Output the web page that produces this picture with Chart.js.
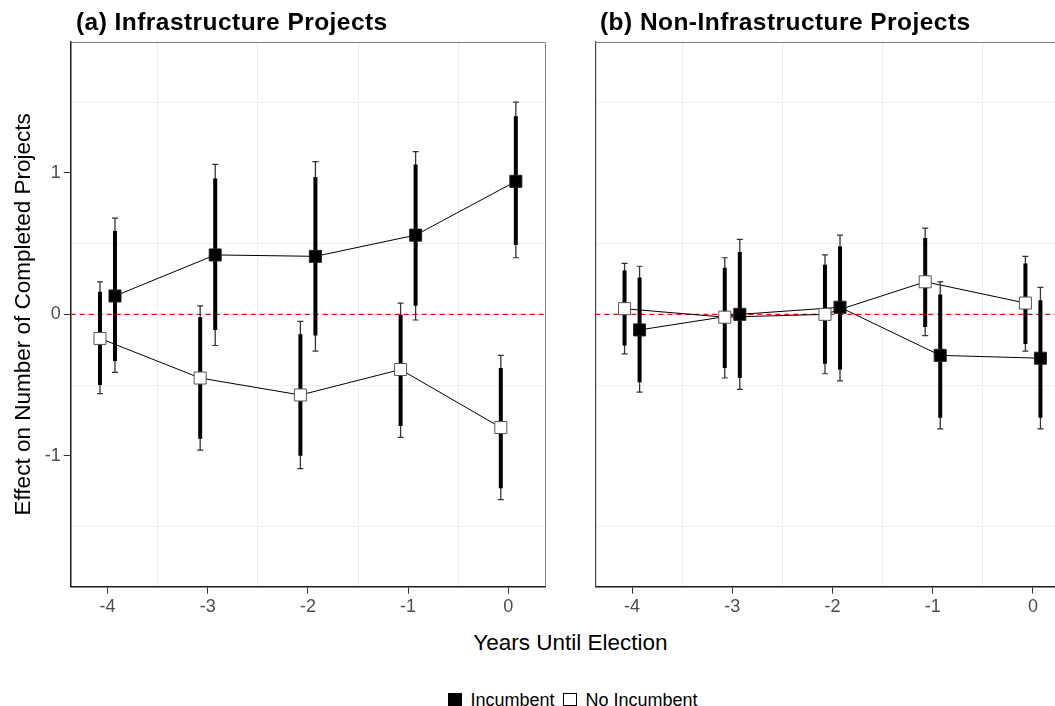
<!DOCTYPE html>
<html>
<head>
<meta charset="utf-8">
<script src="https://cdn.jsdelivr.net/npm/chart.js@4.4.1/dist/chart.umd.min.js"></script>
<style>
  html, body { margin: 0; padding: 0; background: #fff; overflow: hidden; }
  #wrap { position: relative; width: 1100px; height: 706px; font-family: "Liberation Sans", Arial, sans-serif; }
  canvas { position: absolute; top: 0; }
  .ptitle { position: absolute; top: 9.5px; font-weight: bold; font-size: 24.5px; line-height: 24.5px; letter-spacing: 0.45px; color: #000; white-space: nowrap; }
  #xtitle { position: absolute; top: 632px; left: 0; width: 1141px; text-align: center; font-size: 22.5px; line-height: 22.5px; color: #000; }
  #legend { position: absolute; top: 690.5px; left: 448px; display: flex; align-items: flex-start; font-size: 18px; line-height: 18px; color: #000; white-space: nowrap; }
  #legend .sq { width: 14px; height: 12.5px; margin-top: 2.5px; box-sizing: border-box; border: 1px solid #000; }
  #legend .gap { width: 8.5px; }
</style>
</head>
<body>
<div id="wrap">
  <canvas id="panelA" width="560" height="620" style="left:0px"></canvas>
  <canvas id="panelB" width="500" height="620" style="left:580px"></canvas>
  <div class="ptitle" style="left:76px">(a) Infrastructure Projects</div>
  <div class="ptitle" style="left:600px">(b) Non-Infrastructure Projects</div>
  <div id="xtitle">Years Until Election</div>
  <div id="legend">
    <div class="sq" style="background:#000"></div><div class="gap"></div>
    <div>Incumbent</div><div class="gap"></div>
    <div class="sq" style="background:#fff"></div><div class="gap"></div>
    <div>No Incumbent</div>
  </div>
</div>
<script>
// years until election
const years = [-4, -3, -2, -1, 0];
const dodge = 0.075;

// (a) infrastructure, incumbent
const incA_est  = [0.13, 0.42, 0.41, 0.56, 0.94];
const incA_lo90 = [-0.33, -0.11, -0.15, 0.06, 0.49];
const incA_hi90 = [0.59, 0.96, 0.97, 1.06, 1.40];
const incA_lo95 = [-0.41, -0.22, -0.26, -0.04, 0.40];
const incA_hi95 = [0.68, 1.06, 1.08, 1.15, 1.50];
// (a) infrastructure, no incumbent
const noA_est  = [-0.17, -0.45, -0.57, -0.39, -0.80];
const noA_lo90 = [-0.50, -0.88, -1.00, -0.79, -1.23];
const noA_hi90 = [0.16, -0.02, -0.14, 0.00, -0.38];
const noA_lo95 = [-0.56, -0.96, -1.09, -0.87, -1.31];
const noA_hi95 = [0.23, 0.06, -0.05, 0.08, -0.29];

// (b) non-infrastructure, incumbent
const incB_est  = [-0.11, 0.00, 0.05, -0.29, -0.31];
const incB_lo90 = [-0.48, -0.45, -0.39, -0.73, -0.73];
const incB_hi90 = [0.26, 0.44, 0.48, 0.14, 0.10];
const incB_lo95 = [-0.55, -0.53, -0.47, -0.81, -0.81];
const incB_hi95 = [0.34, 0.53, 0.56, 0.23, 0.19];
// (b) non-infrastructure, no incumbent
const noB_est  = [0.04, -0.02, 0.00, 0.23, 0.08];
const noB_lo90 = [-0.22, -0.38, -0.35, -0.09, -0.21];
const noB_hi90 = [0.31, 0.33, 0.35, 0.54, 0.36];
const noB_lo95 = [-0.28, -0.45, -0.42, -0.15, -0.26];
const noB_hi95 = [0.36, 0.40, 0.42, 0.61, 0.41];

const xTicks = [-4, -3.5, -3, -2.5, -2, -1.5, -1, -0.5, 0];
const yTicks = [-1.5, -1, -0.5, 0, 0.5, 1, 1.5];
const xMin = -4.367, xMax = 0.366;
const yMin = -1.925, yMax = 1.925;

const FONT = '"Liberation Sans", Arial, sans-serif';
const isInt = v => Math.abs(v - Math.round(v)) < 1e-9;

// gray top/right frame of each panel
const panelBox = {
  id: 'panelBox',
  afterDraw(chart) {
    const {ctx, chartArea: a} = chart;
    ctx.save();
    ctx.strokeStyle = '#808080';
    ctx.lineWidth = 1;
    ctx.beginPath();
    ctx.moveTo(a.left, a.top + 0.5);
    ctx.lineTo(a.right + 0.5, a.top + 0.5);
    ctx.lineTo(a.right + 0.5, a.bottom);
    ctx.stroke();
    ctx.restore();
  }
};

function groupSets(est, lo90, hi90, lo95, hi95, dx, filled) {
  const xs = years.map(y => y + dx);
  return [
    {type: 'line', data: xs.map((x, i) => ({x, y: est[i]})), borderColor: '#000', borderWidth: 1,
     pointRadius: 0, fill: false, order: 6},
    {type: 'bar', data: xs.map((x, i) => ({x, y: [lo95[i], hi95[i]]})), backgroundColor: '#333',
     barThickness: 1.3, grouped: false, borderWidth: 0, inflateAmount: 0, order: 4},
    {type: 'bar', data: xs.map((x, i) => ({x, y: [lo90[i], hi90[i]]})), backgroundColor: '#000',
     barThickness: 4, grouped: false, borderWidth: 0, inflateAmount: 0, order: 3},
    {type: 'scatter', data: xs.map((x, i) => ({x, y: lo95[i]})).concat(xs.map((x, i) => ({x, y: hi95[i]}))),
     pointStyle: 'line', pointRadius: 3, borderColor: '#333', borderWidth: 1.2, order: 2},
    {type: 'scatter', data: xs.map((x, i) => ({x, y: est[i]})), pointStyle: 'rect', pointRadius: 8.5,
     backgroundColor: filled ? '#000' : '#fff', borderColor: filled ? '#222' : '#555', borderWidth: 1, order: 0}
  ];
}

function makePanel(id, inc, no, showY, padding) {
  const datasets = [
    {type: 'line', data: [{x: xMin, y: 0}, {x: xMax, y: 0}], borderColor: '#ff0000', borderWidth: 1.2,
     borderDash: [5, 4], pointRadius: 0, order: 10}
  ].concat(groupSets(...no, -dodge, false), groupSets(...inc, dodge, true));

  const gridColor = ctx => isInt(ctx.tick.value) ? 'rgba(0,0,0,0)' : '#efefef';
  const tickColor = ctx => isInt(ctx.tick.value) ? '#333' : 'rgba(0,0,0,0)';
  const tickFont = {family: FONT, size: 18};

  return new Chart(document.getElementById(id), {
    type: 'scatter',
    data: {datasets},
    options: {
      responsive: false,
      animation: false,
      events: [],
      layout: {padding},
      plugins: {legend: {display: false}, tooltip: {enabled: false}},
      scales: {
        x: {
          type: 'linear', min: xMin, max: xMax, offset: false,
          afterBuildTicks: s => { s.ticks = xTicks.map(v => ({value: v})); },
          afterFit: s => { s.height = 33.3; },
          grid: {offset: false, color: gridColor, tickColor, tickLength: 7, lineWidth: 1},
          border: {color: '#1a1a1a', width: 1.5},
          ticks: {autoSkip: false, maxRotation: 0, padding: 3, color: '#4d4d4d', font: tickFont,
                  callback: v => isInt(v) ? String(v) : ''}
        },
        y: {
          type: 'linear', min: yMin, max: yMax,
          afterBuildTicks: s => { s.ticks = yTicks.map(v => ({value: v})); },
          afterFit: s => { s.width = showY ? 70.7 : 0; },
          grid: {color: gridColor, tickColor, tickLength: 7, drawTicks: showY, lineWidth: 1},
          border: {color: showY ? '#1a1a1a' : '#444', width: showY ? 1.5 : 1.2},
          ticks: {display: showY, autoSkip: false, padding: 3, color: '#4d4d4d', font: tickFont,
                  callback: v => isInt(v) ? String(v) : ''},
          title: {display: showY, text: 'Effect on Number of Completed Projects', color: '#000',
                  font: {family: FONT, size: 22.5}, padding: {top: 10.5, bottom: 0}}
        }
      }
    },
    plugins: [panelBox]
  });
}

makePanel('panelA',
  [incA_est, incA_lo90, incA_hi90, incA_lo95, incA_hi95],
  [noA_est, noA_lo90, noA_hi90, noA_lo95, noA_hi95],
  true, {left: 0, top: 42, right: 15, bottom: 0});

makePanel('panelB',
  [incB_est, incB_lo90, incB_hi90, incB_lo95, incB_hi95],
  [noB_est, noB_lo90, noB_hi90, noB_lo95, noB_hi95],
  false, {left: 15.3, top: 42, right: 10.4, bottom: 0});
</script>
</body>
</html>
